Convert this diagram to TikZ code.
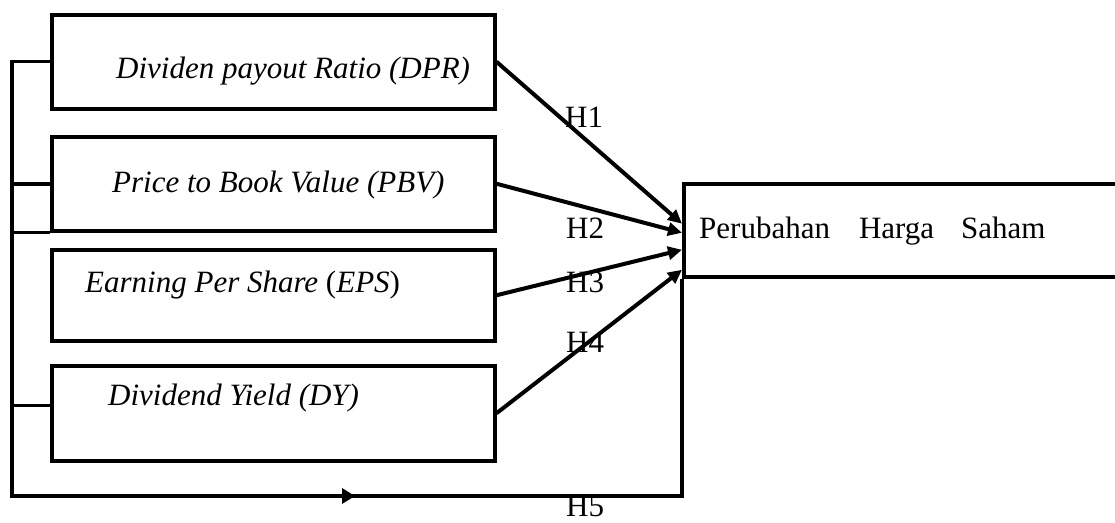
\documentclass[tikz,border=0pt]{standalone}
\usepackage{fontspec}
\setmainfont{Liberation Serif}[ItalicFont={Liberation Serif Italic}]
\usetikzlibrary{arrows.meta,decorations.markings,calc}
\begin{document}
\begin{tikzpicture}[x=1pt,y=-1pt,
  box/.style={draw,line width=3.5pt,inner sep=0pt,anchor=north west},
  lbl/.style={anchor=base west,inner sep=0pt,font=\fontsize{31}{36}\selectfont},
  arr/.style={line width=4pt,-{Triangle[length=14pt,width=13pt]}},
  wire/.style={line width=3.5pt}]
\useasboundingbox (0,0) rectangle (1115,522);
\clip (0,0) rectangle (1115,522);
% boxes
\node[box,minimum width=443pt,minimum height=94pt] (dpr) at (50,13) {};
\node[box,minimum width=443pt,minimum height=94pt] (pbv) at (50,135) {};
\node[box,minimum width=443pt,minimum height=91pt] (eps) at (50,248) {};
\node[box,minimum width=443pt,minimum height=95pt] (dy)  at (50,364) {};
\node[box,minimum width=460pt,minimum height=93pt] (main) at (682,182) {};
% texts
\node[lbl] (tdpr) at (116,78) {\itshape Dividen payout Ratio (DPR)};
\node[lbl] (tpbv) at (112,192) {\itshape Price to Book Value (PBV)};
\node[lbl] (teps) at (85,292) {{\itshape Earning Per Share }(\textit{EPS})};
\node[lbl] (tdy)  at (108,405) {\itshape Dividend Yield (DY)};
\node[lbl] (tmain) at (699,238.5) {Perubahan\hspace{29pt}Harga\hspace{27pt}Saham};
% hypothesis labels
\node[lbl] (h1) at (565,127) {H1};
\node[lbl] (h2) at (566,238) {H2};
\node[lbl] (h3) at (566,292) {H3};
\node[lbl] (h4) at (566,352) {H4};
\node[lbl] (h5) at (566,516) {H5};
% arrow targets on main box
\coordinate (t1) at ([yshift=6.5pt]main.west);
\coordinate (t2) at ([yshift=-2.5pt]main.west);
\coordinate (t3) at ([yshift=-19.5pt]main.west);
\coordinate (t4) at ([yshift=-39.5pt]main.west);
\draw[arr] (dpr.east) -- (t1);
\draw[arr] (pbv.east) -- (t2);
\draw[arr] (eps.east) -- (t3);
\draw[arr] (dy.east) -- (t4);
% left bus
\coordinate (L0) at (12,61.5);
\coordinate (L1) at (12,496);
\coordinate (B) at (main.south west |- L1);
\coordinate (dys) at ([yshift=8pt]dy.west);
\draw[wire,line join=miter] (dpr.west |- L0) -- (L0) -- (L1);
\draw[wire] (L0 |- pbv.west) -- (pbv.west);
\draw[wire] (L0 |- pbv.south west) -- (pbv.south west);
\draw[wire] (L0 |- dys) -- (dys);
\draw[wire,line join=miter,postaction={decorate},
  decoration={markings,mark=at position 0.512 with {\arrow{Triangle[length=13pt,width=15pt]}}}]
  (L1) -- (B);
\draw[wire,line join=miter] ([xshift=-1.75pt]L1) -- (B) -- (main.south west);
\end{tikzpicture}
\end{document}
